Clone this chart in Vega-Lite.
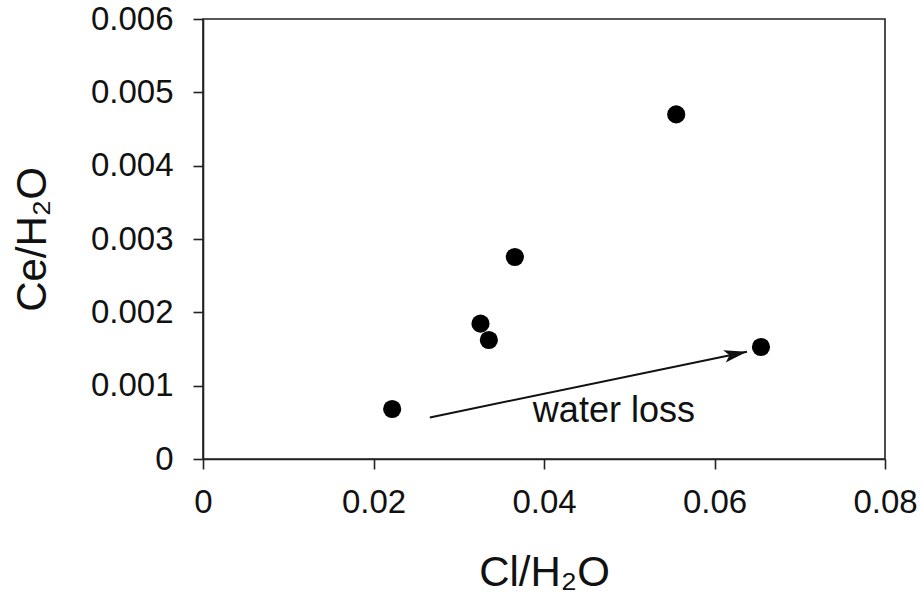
{
  "$schema": "https://vega.github.io/schema/vega-lite/v6.json",
  "width": 682,
  "height": 440,
  "autosize": "none",
  "padding": {"left": 203, "top": 19, "right": 38, "bottom": 147},
  "background": "white",
  "config": {
    "font": "Liberation Sans",
    "view": {"stroke": "#222222", "strokeWidth": 1.6},
    "axis": {
      "grid": false,
      "domainColor": "#222222",
      "domainWidth": 1.6,
      "tickColor": "#222222",
      "tickWidth": 1.6,
      "tickSize": 10,
      "labelFont": "Liberation Sans",
      "labelFontSize": 33,
      "labelColor": "#111111",
      "titleFont": "Liberation Sans",
      "titleFontSize": 42,
      "titleFontWeight": "normal",
      "titleColor": "#111111",
      "labelFlush": false,
      "labelOverlap": false
    }
  },
  "datasets": {
    "points": [
      {"cl": 0.02219, "ce": 0.000682},
      {"cl": 0.03255, "ce": 0.001845},
      {"cl": 0.03353, "ce": 0.001623},
      {"cl": 0.03658, "ce": 0.002755},
      {"cl": 0.05551, "ce": 0.004699},
      {"cl": 0.06545, "ce": 0.001527}
    ],
    "arrow": [
      {"x1": 0.02661, "y1": 0.000567, "x2": 0.06381, "y2": 0.001463}
    ],
    "note": [
      {"x": 0.0482, "y": 0.000509, "text": "water loss"}
    ]
  },
  "layer": [
    {
      "data": {"name": "arrow"},
      "mark": {"type": "rule", "color": "#111111", "strokeWidth": 2},
      "encoding": {
        "x": {"field": "x1", "type": "quantitative", "scale": {"domain": [0, 0.08], "nice": false},
          "axis": {"values": [0, 0.02, 0.04, 0.06, 0.08], "labelPadding": 17, "titlePadding": 33,
            "labelExpr": "datum.value == 0 ? '0' : format(datum.value, '.2f')"},
          "title": "Cl/H₂O"},
        "y": {"field": "y1", "type": "quantitative", "scale": {"domain": [0, 0.006], "nice": false},
          "axis": {"values": [0, 0.001, 0.002, 0.003, 0.004, 0.005, 0.006], "labelPadding": 20, "titlePadding": 36,
            "labelExpr": "datum.value == 0 ? '0' : format(datum.value, '.3f')"},
          "title": "Ce/H₂O"},
        "x2": {"field": "x2"},
        "y2": {"field": "y2"}
      }
    },
    {
      "data": {"name": "arrow"},
      "mark": {"type": "point", "filled": true, "color": "#111111", "opacity": 1,
        "shape": "M0,0 L-2,-0.55 L-1.55,0 L-2,0.55 Z", "size": 529, "angle": -11.7},
      "encoding": {
        "x": {"field": "x2", "type": "quantitative"},
        "y": {"field": "y2", "type": "quantitative"}
      }
    },
    {
      "data": {"name": "points"},
      "mark": {"type": "circle", "color": "#000000", "opacity": 1, "size": 330},
      "encoding": {
        "x": {"field": "cl", "type": "quantitative"},
        "y": {"field": "ce", "type": "quantitative"}
      }
    },
    {
      "data": {"name": "note"},
      "mark": {"type": "text", "fontSize": 36, "font": "Liberation Sans", "align": "center", "baseline": "alphabetic", "color": "#111111"},
      "encoding": {
        "x": {"field": "x", "type": "quantitative"},
        "y": {"field": "y", "type": "quantitative"},
        "text": {"field": "text"}
      }
    }
  ]
}
